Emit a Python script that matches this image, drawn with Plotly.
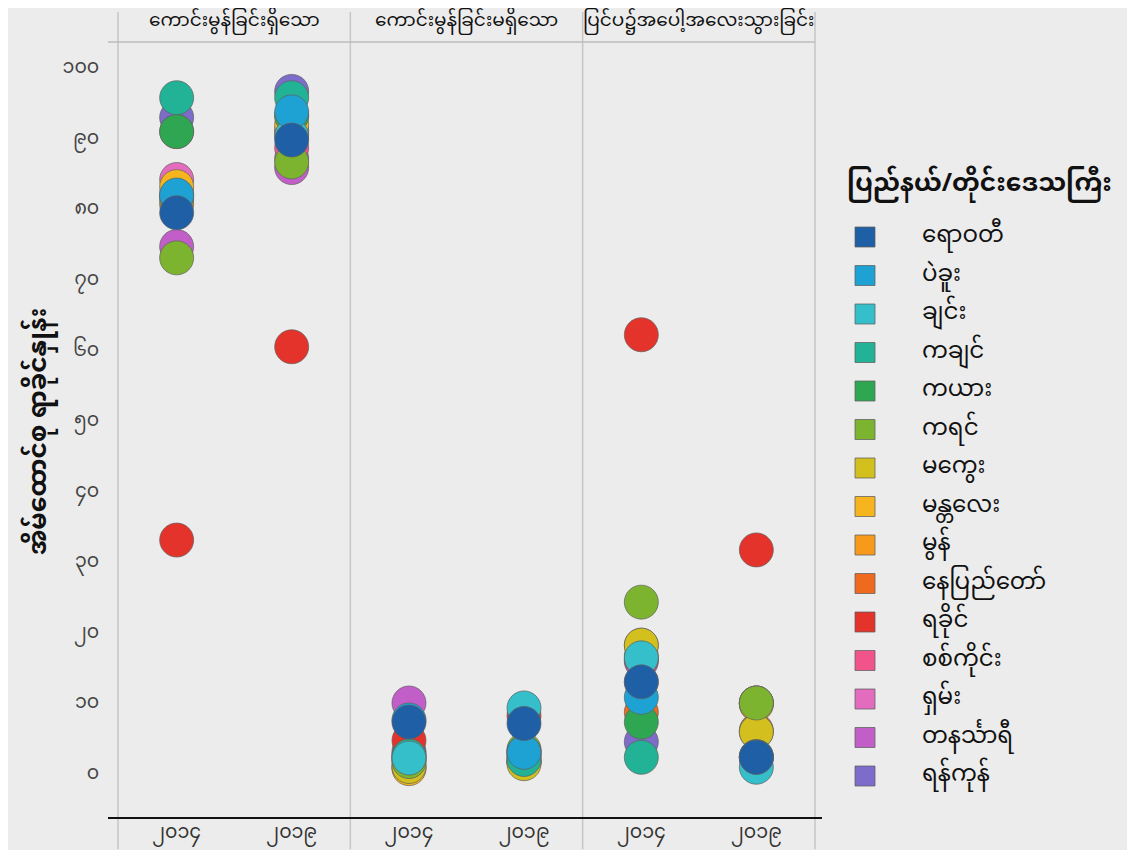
import plotly.graph_objects as go
from plotly.subplots import make_subplots

# ---------------- data ----------------
regions = ["ရောဝတီ", "ပဲခူး", "ချင်း", "ကချင်", "ကယား", "ကရင်", "မကွေး", "မန္တလေး",
           "မွန်", "နေပြည်တော်", "ရခိုင်", "စစ်ကိုင်း", "ရှမ်း", "တနင်္သာရီ", "ရန်ကုန်"]
colors = ["#1f5fa6", "#1ea2d4", "#35bfca", "#22b396", "#2fa652", "#7db42f", "#d3c01f", "#f6b41e",
          "#f7991b", "#ef6a1f", "#e3332a", "#f0548b", "#e46cbf", "#c25ec8", "#7d6cc9"]
panels = ["ကောင်းမွန်ခြင်းရှိသော", "ကောင်းမွန်ခြင်းမရှိသော", "ပြင်ပ၌အပေါ့အလေးသွားခြင်း"]
years = ["၂၀၁၄", "၂၀၁၉"]

# values per region: [panel1 2014, panel1 2019, panel2 2014, panel2 2019, panel3 2014, panel3 2019]
vals = {
    "ရောဝတီ":     [79.3, 89.6, 7.1, 6.9, 12.8, 2.1],
    "ပဲခူး":       [81.8, 93.6, 7.4, 2.8, 10.6, 2.1],
    "ချင်း":       [81.6, 90.2, 2.0, 9.1, 16.2, 0.7],
    "ကချင်":      [95.6, 95.6, 2.3, 1.8, 2.1, 2.2],
    "ကယား":      [90.8, 93.0, 2.1, 2.8, 7.1, 2.2],
    "ကရင်":       [72.9, 86.5, 1.5, 3.2, 24.1, 9.8],
    "မကွေး":      [81.2, 93.1, 0.8, 1.2, 18.0, 5.7],
    "မန္တလေး":    [83.0, 91.8, 0.5, 2.5, 16.5, 5.7],
    "မွန်":        [80.5, 90.5, 1.5, 1.5, 18.0, 9.6],
    "နေပြည်တော်": [90.8, 91.0, 0.7, 2.5, 8.5, 5.9],
    "ရခိုင်":      [32.9, 60.3, 4.5, 8.0, 62.0, 31.5],
    "စစ်ကိုင်း":   [82.0, 88.5, 2.0, 1.5, 16.0, 9.8],
    "ရှမ်း":       [84.0, 87.0, 2.5, 2.0, 12.8, 9.8],
    "တနင်္သာရီ":  [74.5, 85.7, 9.8, 3.0, 15.7, 9.8],
    "ရန်ကုန်":     [92.8, 96.5, 2.9, 1.5, 4.3, 2.0],
}

y_ticks = [0, 10, 20, 30, 40, 50, 60, 70, 80, 90, 100]
y_ticktext = ["၀", "၁၀", "၂၀", "၃၀", "၄၀", "၅၀", "၆၀", "၇၀", "၈၀", "၉၀", "၁၀၀"]

legend_title = "ပြည်နယ်/တိုင်းဒေသကြီး"
y_title = "အိမ်ထောင်စု ရာခိုင်နှုန်း"

FONT = "Noto Sans Myanmar, Padauk, Myanmar Text, Myanmar3, Noto Sans, sans-serif"
BG = "#ececec"

# page body adds an 8px offset; size the figure so the page fits the window exactly
W, H = 1119, 842
ML, MR, MT, MB = 110, 312, 34, 32
PW, PH = W - ML - MR, H - MT - MB
Y_LO, Y_HI = -6.5, 103.5

fig = make_subplots(rows=1, cols=3, shared_yaxes=True, horizontal_spacing=0)

# draw last region first so the first region ends up on top
for i in reversed(range(len(regions))):
    r = regions[i]
    v = vals[r]
    for p in range(3):
        fig.add_trace(go.Scatter(
            x=years, y=[v[2 * p], v[2 * p + 1]], mode="markers",
            name=r, legendgroup=r, showlegend=False,
            marker=dict(size=34, color=colors[i], symbol="circle",
                        line=dict(width=1, color="rgba(95,95,95,0.7)")),
            hovertemplate=r + ": %{y}<extra></extra>",
        ), row=1, col=p + 1)

for c in range(1, 4):
    fig.update_xaxes(type="category", categoryorder="array", categoryarray=years,
                     range=[-0.51, 1.51], showgrid=False, zeroline=False, showline=False,
                     automargin=False, ticks="",
                     tickfont=dict(family=FONT, size=19, color="#333333"),
                     row=1, col=c)
fig.update_yaxes(range=[Y_LO, Y_HI], showgrid=False, zeroline=False, showline=False,
                 automargin=False)
fig.update_yaxes(tickvals=y_ticks, ticktext=y_ticktext, showticklabels=True,
                 ticks="outside", ticklen=14, tickcolor="rgba(0,0,0,0)",
                 tickfont=dict(family=FONT, size=19, color="#444444"), row=1, col=1)
for c in (2, 3):
    fig.update_yaxes(showticklabels=False, ticks="", row=1, col=c)


def px(ref_x):
    return (ref_x - 8 - ML) / PW


def py(ref_y):
    return 1 - (ref_y - 8 - MT) / PH


shapes = []
# vertical panel separators
for xp in [0, 1 / 3, 2 / 3, 1]:
    shapes.append(dict(type="line", xref="paper", yref="paper", x0=xp, x1=xp,
                       y0=-MB / PH + 0.001, y1=py(12), line=dict(color="#c6c6c6", width=1.5)))
# strip underline
shapes.append(dict(type="line", xref="paper", yref="paper", x0=px(108), x1=1, y0=1, y1=1,
                   line=dict(color="#bdbdbd", width=1.5)))
# bottom axis line
shapes.append(dict(type="line", xref="paper", yref="paper", x0=px(108), x1=px(822), y0=0, y1=0,
                   line=dict(color="#111111", width=2)))

annotations = []
for p, t in enumerate(panels):
    annotations.append(dict(text=t, xref="paper", yref="paper", x=(p + 0.5) / 3, y=py(22),
                            xanchor="center", yanchor="middle", showarrow=False,
                            font=dict(family=FONT, size=18.5, color="#111111")))
annotations.append(dict(text="<b>" + y_title + "</b>", xref="paper", yref="paper",
                        x=px(40), y=py(432), textangle=-90, xanchor="center", yanchor="middle",
                        showarrow=False, font=dict(family=FONT, size=25, color="#111111")))

# ---- legend (drawn as swatches + labels) ----
annotations.append(dict(text="<b>" + legend_title + "</b>", xref="paper", yref="paper",
                        x=px(845), y=py(185), xanchor="left", yanchor="middle",
                        showarrow=False, font=dict(family=FONT, size=25, color="#111111")))
for k, r in enumerate(regions):
    yk = py(237 + 38.5 * k)
    shapes.append(dict(type="rect", xref="paper", yref="paper",
                       xsizemode="pixel", ysizemode="pixel",
                       xanchor=px(865), yanchor=yk, x0=-10, x1=10, y0=-10, y1=10,
                       fillcolor=colors[k], line=dict(color="rgba(95,95,95,0.75)", width=1)))
    annotations.append(dict(text=r, xref="paper", yref="paper", x=px(920), y=yk,
                            xanchor="left", yanchor="middle", showarrow=False,
                            font=dict(family=FONT, size=23, color="#111111")))

fig.update_layout(
    width=W, height=H,
    margin=dict(l=ML, r=MR, t=MT, b=MB, autoexpand=False),
    paper_bgcolor=BG, plot_bgcolor=BG,
    shapes=shapes, annotations=annotations,
    showlegend=False,
    font=dict(family=FONT),
)

fig.write_html("out.html")
